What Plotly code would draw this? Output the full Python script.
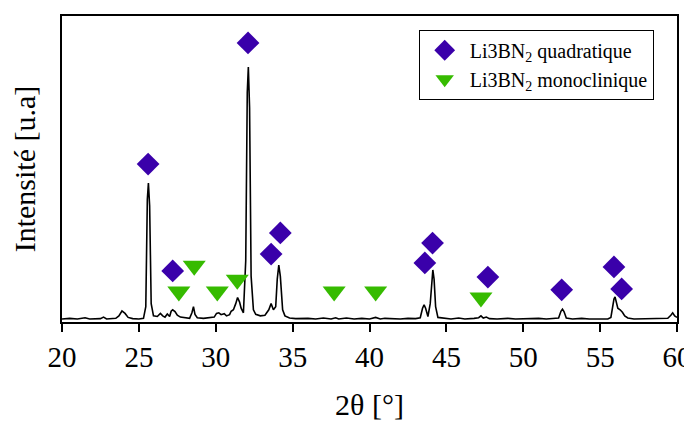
import plotly.graph_objects as go

# XRD pattern (2theta in degrees, intensity in arbitrary units)
two_theta = [20.0, 20.5, 21.0, 21.5, 21.8, 22.5, 22.7, 22.9, 23.5, 23.7, 23.9, 24.1, 24.3, 24.6,
             25.0, 25.3, 25.45, 25.55, 25.62, 25.7, 25.8, 25.95, 26.2, 26.4, 26.55, 26.7, 26.85,
             27.0, 27.1, 27.2, 27.35, 27.5, 27.7, 28.0, 28.3, 28.45, 28.55, 28.65, 28.8, 29.2,
             29.6, 29.9, 30.05, 30.2, 30.35, 30.55, 30.7, 30.9, 31.0, 31.15, 31.3, 31.42, 31.55,
             31.65, 31.8, 31.95, 32.05, 32.12, 32.2, 32.3, 32.45, 32.6, 32.9, 33.2, 33.45, 33.6,
             33.75, 33.9, 34.0, 34.1, 34.2, 34.35, 34.5, 34.8, 35.2, 36.0, 36.5, 37.0, 37.5, 37.8,
             38.0, 38.5, 39.0, 39.5, 40.0, 40.4, 40.7, 41.0, 42.0, 42.5, 43.0, 43.3, 43.45, 43.55,
             43.65, 43.8, 43.95, 44.05, 44.12, 44.2, 44.3, 44.45, 44.8, 45.3, 45.8, 46.2, 46.8,
             47.1, 47.25, 47.4, 47.6, 47.8, 48.3, 49.0, 49.5, 50.0, 50.5, 51.0, 51.5, 52.0, 52.3,
             52.45, 52.55, 52.65, 52.8, 53.2, 53.8, 54.3, 55.0, 55.5, 55.7, 55.8, 55.9, 55.97,
             56.05, 56.15, 56.3, 56.45, 56.6, 56.8, 57.2, 58.0, 58.5, 59.0, 59.4, 59.6, 59.72,
             59.85, 60.0]
intensity = [1.0, 1.2, 1.0, 1.4, 1.0, 1.1, 1.6, 1.0, 1.2, 2.0, 3.6, 2.8, 1.5, 1.1,
             1.0, 1.2, 5.0, 40.0, 45.4, 38.0, 6.0, 2.0, 1.8, 2.8, 2.0, 1.6, 2.6,
             1.8, 3.5, 4.0, 3.4, 2.2, 1.6, 1.3, 1.2, 3.0, 5.0, 2.5, 1.4, 1.2,
             1.3, 1.6, 2.8, 3.0, 2.4, 2.7, 2.0, 2.4, 3.5, 4.0, 6.0, 8.0, 6.5,
             4.5, 3.0, 20.0, 75.0, 83.3, 70.0, 15.0, 4.0, 2.5, 2.0, 2.2, 4.0, 6.0,
             4.0, 5.0, 14.0, 18.6, 15.0, 4.0, 2.0, 1.3, 1.1, 1.2, 1.0, 1.3, 1.0, 1.4,
             1.0, 1.3, 1.0, 1.2, 1.0, 1.5, 1.0, 1.2, 1.0, 1.2, 1.1, 1.4, 4.5, 5.6,
             4.5, 1.8, 6.0, 15.0, 17.0, 14.0, 5.0, 1.5, 1.2, 1.0, 1.3, 1.0, 1.2,
             1.4, 2.0, 1.3, 1.6, 1.1, 1.0, 1.2, 1.0, 1.1, 1.0, 1.2, 1.0, 1.1, 1.3,
             3.5, 4.2, 3.4, 1.3, 1.0, 1.2, 1.0, 1.1, 1.0, 1.5, 5.0, 7.5, 8.2,
             6.0, 4.5, 4.0, 3.2, 2.0, 1.3, 1.0, 1.1, 1.0, 1.1, 1.2, 2.2, 3.0,
             2.0, 1.5]

# Peak markers
quad_x = [25.6, 27.2, 32.1, 33.6, 34.2, 43.6, 44.1, 47.7, 52.5, 55.9, 56.4]
quad_y = [51.6, 16.7, 91.2, 22.2, 29.1, 19.3, 25.8, 14.7, 10.5, 18.0, 10.8]
mono_x = [27.6, 28.6, 30.1, 31.4, 37.7, 40.4, 47.25]
mono_y = [10.0, 18.4, 10.0, 13.8, 10.0, 10.0, 8.0]

x_ticks = [20, 25, 30, 35, 40, 45, 50, 55, 60]

FONT = "Liberation Serif"

fig = go.Figure()
fig.add_trace(go.Scatter(x=two_theta, y=intensity, mode="lines",
                         line=dict(color="black", width=1.6), showlegend=False,
                         hoverinfo="skip"))
fig.add_trace(go.Scatter(x=quad_x, y=quad_y, mode="markers",
                         marker=dict(symbol="diamond", size=17.5, color="#3a00aa"),
                         name="Li3BN<sub>2</sub> quadratique"))
fig.add_trace(go.Scatter(x=mono_x, y=mono_y, mode="markers",
                         marker=dict(symbol="triangle-down", size=20, color="#36bb00"),
                         name="Li3BN<sub>2</sub> monoclinique"))

# page has an 8px body margin, so the figure is shifted by 8px
fig.update_layout(
    width=684, height=415,
    margin=dict(l=54, r=15, t=8, b=101),
    paper_bgcolor="white", plot_bgcolor="white",
    font=dict(family=FONT, color="black"),
    legend=dict(x=0.58, y=0.955, xanchor="left", yanchor="top",
                bordercolor="black", borderwidth=1, bgcolor="white", itemwidth=40,
                font=dict(family=FONT, size=20, color="black")),
)
fig.update_xaxes(range=[20, 60], tickvals=x_ticks, ticks="outside", ticklen=8, tickwidth=1.5,
                 tickcolor="black", showline=True, linecolor="black", linewidth=2, mirror=True,
                 showgrid=False, zeroline=False,
                 tickfont=dict(family=FONT, size=29, color="black"),
                 automargin=False,
                 title=dict(text="2θ [°]", font=dict(family=FONT, size=30, color="black"), standoff=22))
fig.update_yaxes(range=[0, 100], showticklabels=False, ticks="", showline=True,
                 linecolor="black", linewidth=2, mirror=True, showgrid=False, zeroline=False,
                 automargin=False,
                 title=dict(text="Intensité [u.a]", font=dict(family=FONT, size=30, color="black"), standoff=20))

fig.write_html("out.html")
